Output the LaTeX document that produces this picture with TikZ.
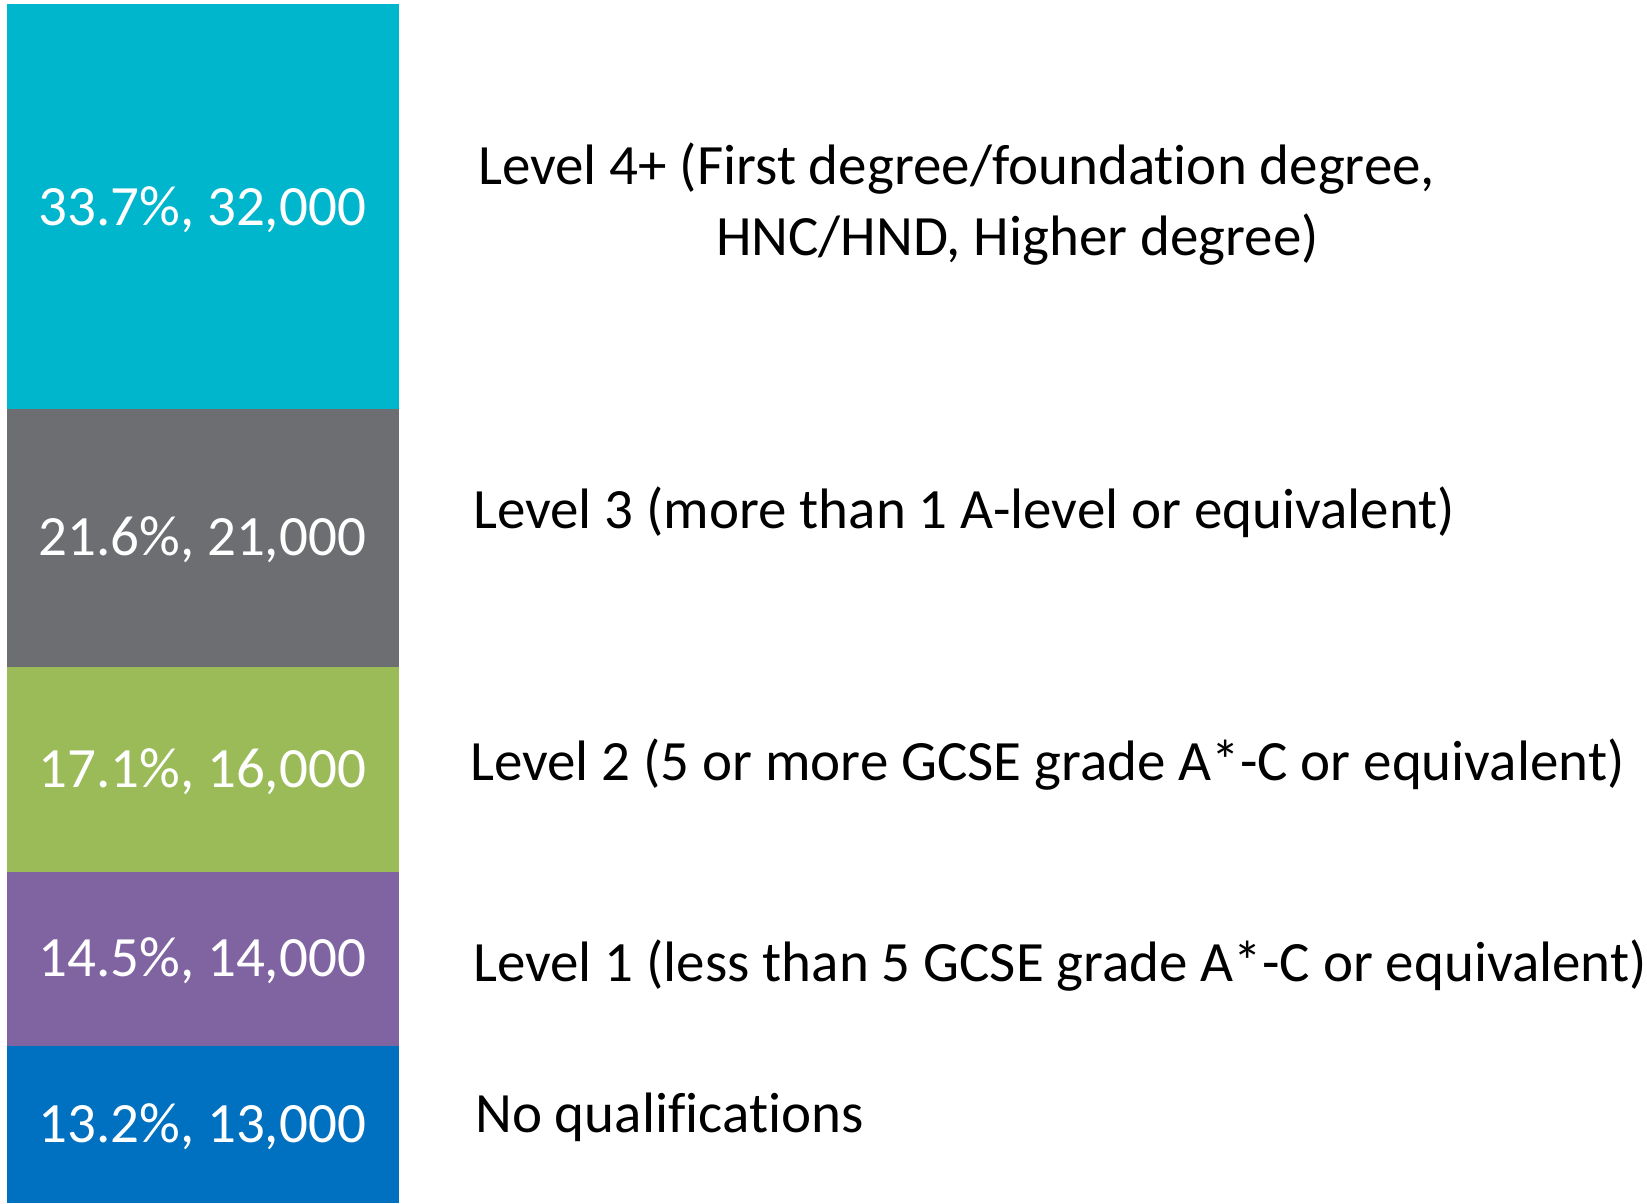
\documentclass[tikz,border=0pt]{standalone}
\usepackage{fontspec}
\setmainfont{Carlito}[Ligatures=NoCommon]
\definecolor{cCyan}{RGB}{0,182,205}
\definecolor{cGrey}{RGB}{109,110,113}
\definecolor{cGreen}{RGB}{155,187,89}
\definecolor{cPurple}{RGB}{128,100,162}
\definecolor{cBlue}{RGB}{0,112,192}
\tikzset{
  val/.style={text=white, font=\fontsize{57}{68}\selectfont, inner sep=0pt},
  lab/.style={text=black, font=\fontsize{57}{70}\selectfont, inner sep=0pt, anchor=base west}
}
\begin{document}
\begin{tikzpicture}[x=1pt,y=-1pt]
\useasboundingbox (0,0) rectangle (1647,1204);
\fill[white] (0,0) rectangle (1647,1204);
% bar segments
\path[fill=cCyan]   (7,4)    rectangle (399,409);
\path[fill=cGrey]   (7,409)  rectangle (399,667);
\path[fill=cGreen]  (7,667)  rectangle (399,872);
\path[fill=cPurple] (7,872)  rectangle (399,1046);
\path[fill=cBlue]   (7,1046) rectangle (399,1203);
% values
\node[val] (v4) at (202,209.5) {33.7\%, 32,000};
\node[val] (v3) at (202,540) {21.6\%, 21,000};
\node[val] (v2) at (202,771.5) {17.1\%, 16,000};
\node[val] (v1) at (202,961) {14.5\%, 14,000};
\node[val] (v0) at (202,1127) {13.2\%, 13,000};
% labels
\node[lab] (l4a) at (478,185) {Level 4+ (First degree/foundation degree,};
\node[lab] (l4b) at (716,255) {HNC/HND, Higher degree)};
\node[lab] (l3) at (473,528) {Level 3 (more than 1 A-level or equivalent)};
\node[lab] (l2) at (470,780) {Level 2 (5 or more GCSE grade A*-C or equivalent)};
\node[lab] (l1) at (473,981) {Level 1 (less than 5 GCSE grade A*-C or equivalent)};
\node[lab] (l0) at (475,1132) {No qualifications};
\end{tikzpicture}
\end{document}
